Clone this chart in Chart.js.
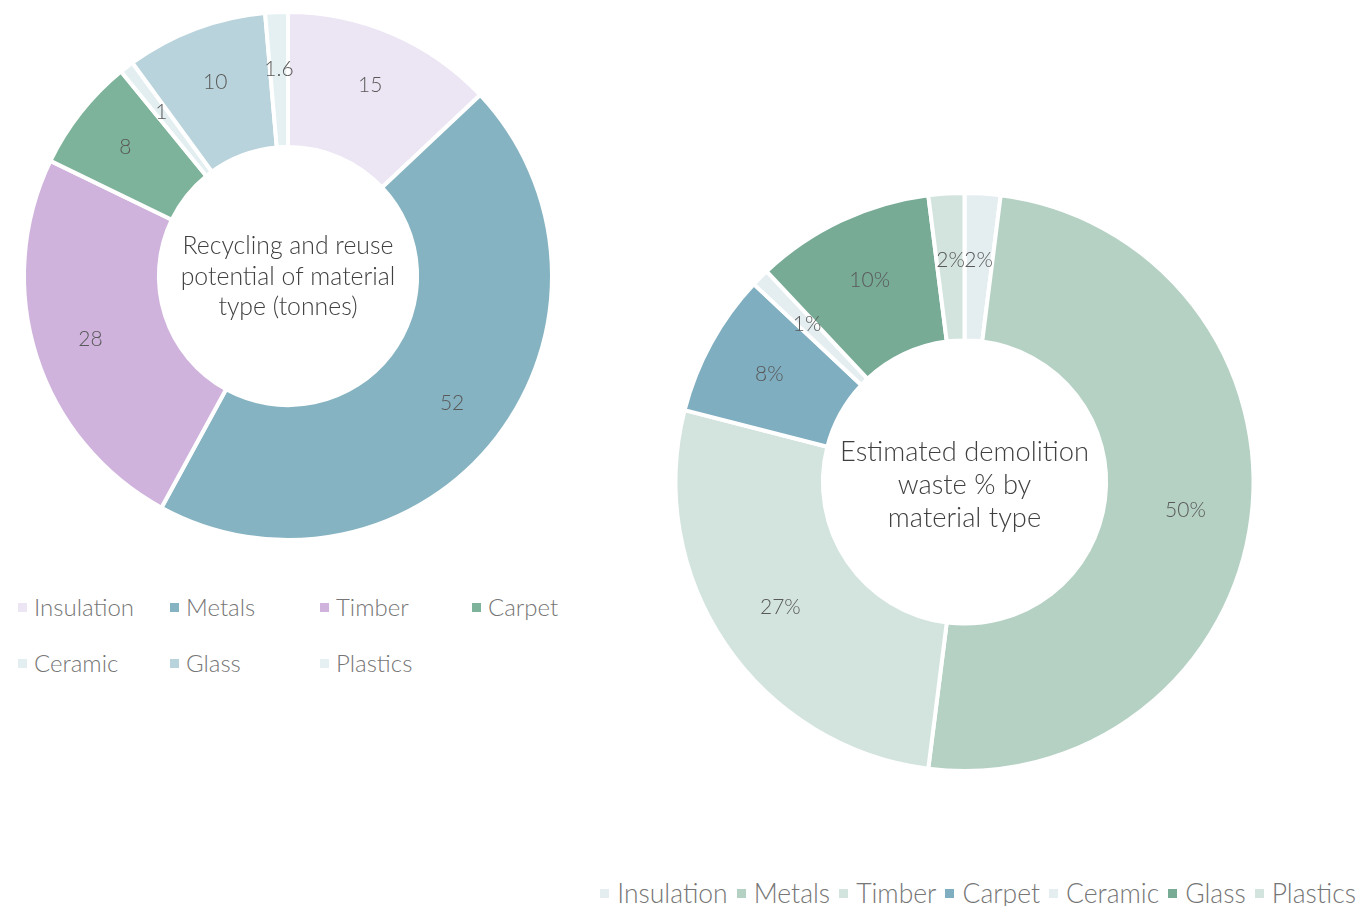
<!DOCTYPE html>
<html>
<head>
<meta charset="utf-8">
<title>Material recycling and demolition waste</title>
<script src="https://cdn.jsdelivr.net/npm/chart.js@4.4.1/dist/chart.umd.min.js"></script>
<style>
    body {
        margin: 0;
        width: 1360px;
        height: 906px;
        position: relative;
        overflow: hidden;
        background: #fff;
        font-family: Lato, "Noto Sans", sans-serif;
        font-weight: 300;
        color: #767676;
    }
    .chart-box { position: absolute; }
    #recycleBox { left: 0; top: 0; width: 576px; height: 552px; }
    #wasteBox { left: 660px; top: 182px; width: 609px; height: 600px; }
    .legend { position: absolute; font-size: 24px; line-height: 30px; }
    .legend .item { display: flex; align-items: center; white-space: nowrap; }
    .legend .swatch { width: 9px; height: 9px; margin-right: 7px; flex: none; }
    #recycleLegend {
        left: 18px;
        top: 592px;
        display: grid;
        grid-template-columns: 152px 150px 152px 152px;
        row-gap: 26px;
    }
    #wasteLegend {
        right: 4px;
        top: 878px;
        display: flex;
        gap: 9px;
        font-size: 26.5px;
    }
    #wasteLegend .swatch { margin-right: 8px; }
</style>
</head>
<body>
<div class="chart-box" id="recycleBox"><canvas id="recycleChart"></canvas></div>
<div class="chart-box" id="wasteBox"><canvas id="wasteChart"></canvas></div>
<div class="legend" id="recycleLegend"></div>
<div class="legend" id="wasteLegend"></div>

<script>
const materials = ['Insulation', 'Metals', 'Timber', 'Carpet', 'Ceramic', 'Glass', 'Plastics'];

// tonnes recoverable per material
const recycleTonnes = [15, 52, 28, 8, 1, 10, 1.6];
// share of demolition waste, percent
const wastePercent = [2, 50, 27, 8, 1, 10, 2];

const recycleColors = ['#ece6f4', '#85b3c2', '#cfb3dd', '#7db39a', '#e3eef1', '#b8d3db', '#e5f0f2'];
const wasteColors = ['#e4eef1', '#b5d1c4', '#d3e4de', '#7faec0', '#e4eef1', '#77ab96', '#d3e4de'];

Chart.defaults.font.family = 'Lato, "Noto Sans", sans-serif';
Chart.defaults.animation = false;

// value labels placed part way across each ring segment
const sliceLabels = {
    id: 'sliceLabels',
    afterDatasetsDraw(chart, args, opts) {
        const ctx = chart.ctx;
        const meta = chart.getDatasetMeta(0);
        const values = chart.data.datasets[0].data;
        ctx.save();
        ctx.font = '300 ' + opts.size + 'px Lato, "Noto Sans", sans-serif';
        ctx.fillStyle = '#595959';
        ctx.textAlign = 'center';
        ctx.textBaseline = 'middle';
        meta.data.forEach((arc, i) => {
            const p = arc.getProps(['x', 'y', 'startAngle', 'endAngle', 'innerRadius', 'outerRadius'], true);
            const mid = (p.startAngle + p.endAngle) / 2;
            const r = p.innerRadius + opts.position * (p.outerRadius - p.innerRadius);
            ctx.fillText(values[i] + (opts.suffix || ''), p.x + Math.cos(mid) * r, p.y + Math.sin(mid) * r);
        });
        ctx.restore();
    }
};

// title written inside the hole of the doughnut
function centerTitle(lines, size, lineHeight, shift) {
    return {
        id: 'centerTitle',
        afterDraw(chart) {
            const ctx = chart.ctx;
            const arc = chart.getDatasetMeta(0).data[0];
            const top = arc.y + shift - (lines.length - 1) * lineHeight / 2;
            ctx.save();
            ctx.font = '300 ' + size + 'px Lato, "Noto Sans", sans-serif';
            ctx.fillStyle = '#404040';
            ctx.textAlign = 'center';
            ctx.textBaseline = 'middle';
            lines.forEach((line, i) => ctx.fillText(line, arc.x, top + i * lineHeight));
            ctx.restore();
        }
    };
}

function makeDoughnut(id, values, colors, radius, cutout, labelOpts, title) {
    const ctx = document.getElementById(id).getContext('2d');
    return new Chart(ctx, {
        type: 'doughnut',
        data: {
            labels: materials,
            datasets: [{
                data: values,
                backgroundColor: colors,
                borderColor: '#ffffff',
                borderWidth: 4,
                hoverOffset: 0
            }]
        },
        options: {
            responsive: true,
            maintainAspectRatio: false,
            events: [],
            radius: radius,
            cutout: cutout,
            layout: { padding: 0 },
            plugins: {
                legend: { display: false },
                tooltip: { enabled: false },
                sliceLabels: labelOpts
            }
        },
        plugins: [sliceLabels, title]
    });
}

function buildLegend(elId, colors) {
    const el = document.getElementById(elId);
    materials.forEach((name, i) => {
        const item = document.createElement('div');
        item.className = 'item';
        const sw = document.createElement('span');
        sw.className = 'swatch';
        sw.style.background = colors[i];
        item.appendChild(sw);
        item.appendChild(document.createTextNode(name));
        el.appendChild(item);
    });
}

makeDoughnut('recycleChart', recycleTonnes, recycleColors, 264, 134,
    { size: 21, position: 0.58 },
    centerTitle(['Recycling and reuse', 'potential of material', 'type (tonnes)'], 24.8, 30.5, 1));

makeDoughnut('wasteChart', wastePercent, wasteColors, 289, 146,
    { size: 21, position: 0.55, suffix: '%' },
    centerTitle(['Estimated demolition', 'waste % by', 'material type'], 27.3, 33, 3));

buildLegend('recycleLegend', recycleColors);
buildLegend('wasteLegend', wasteColors);
</script>
</body>
</html>
